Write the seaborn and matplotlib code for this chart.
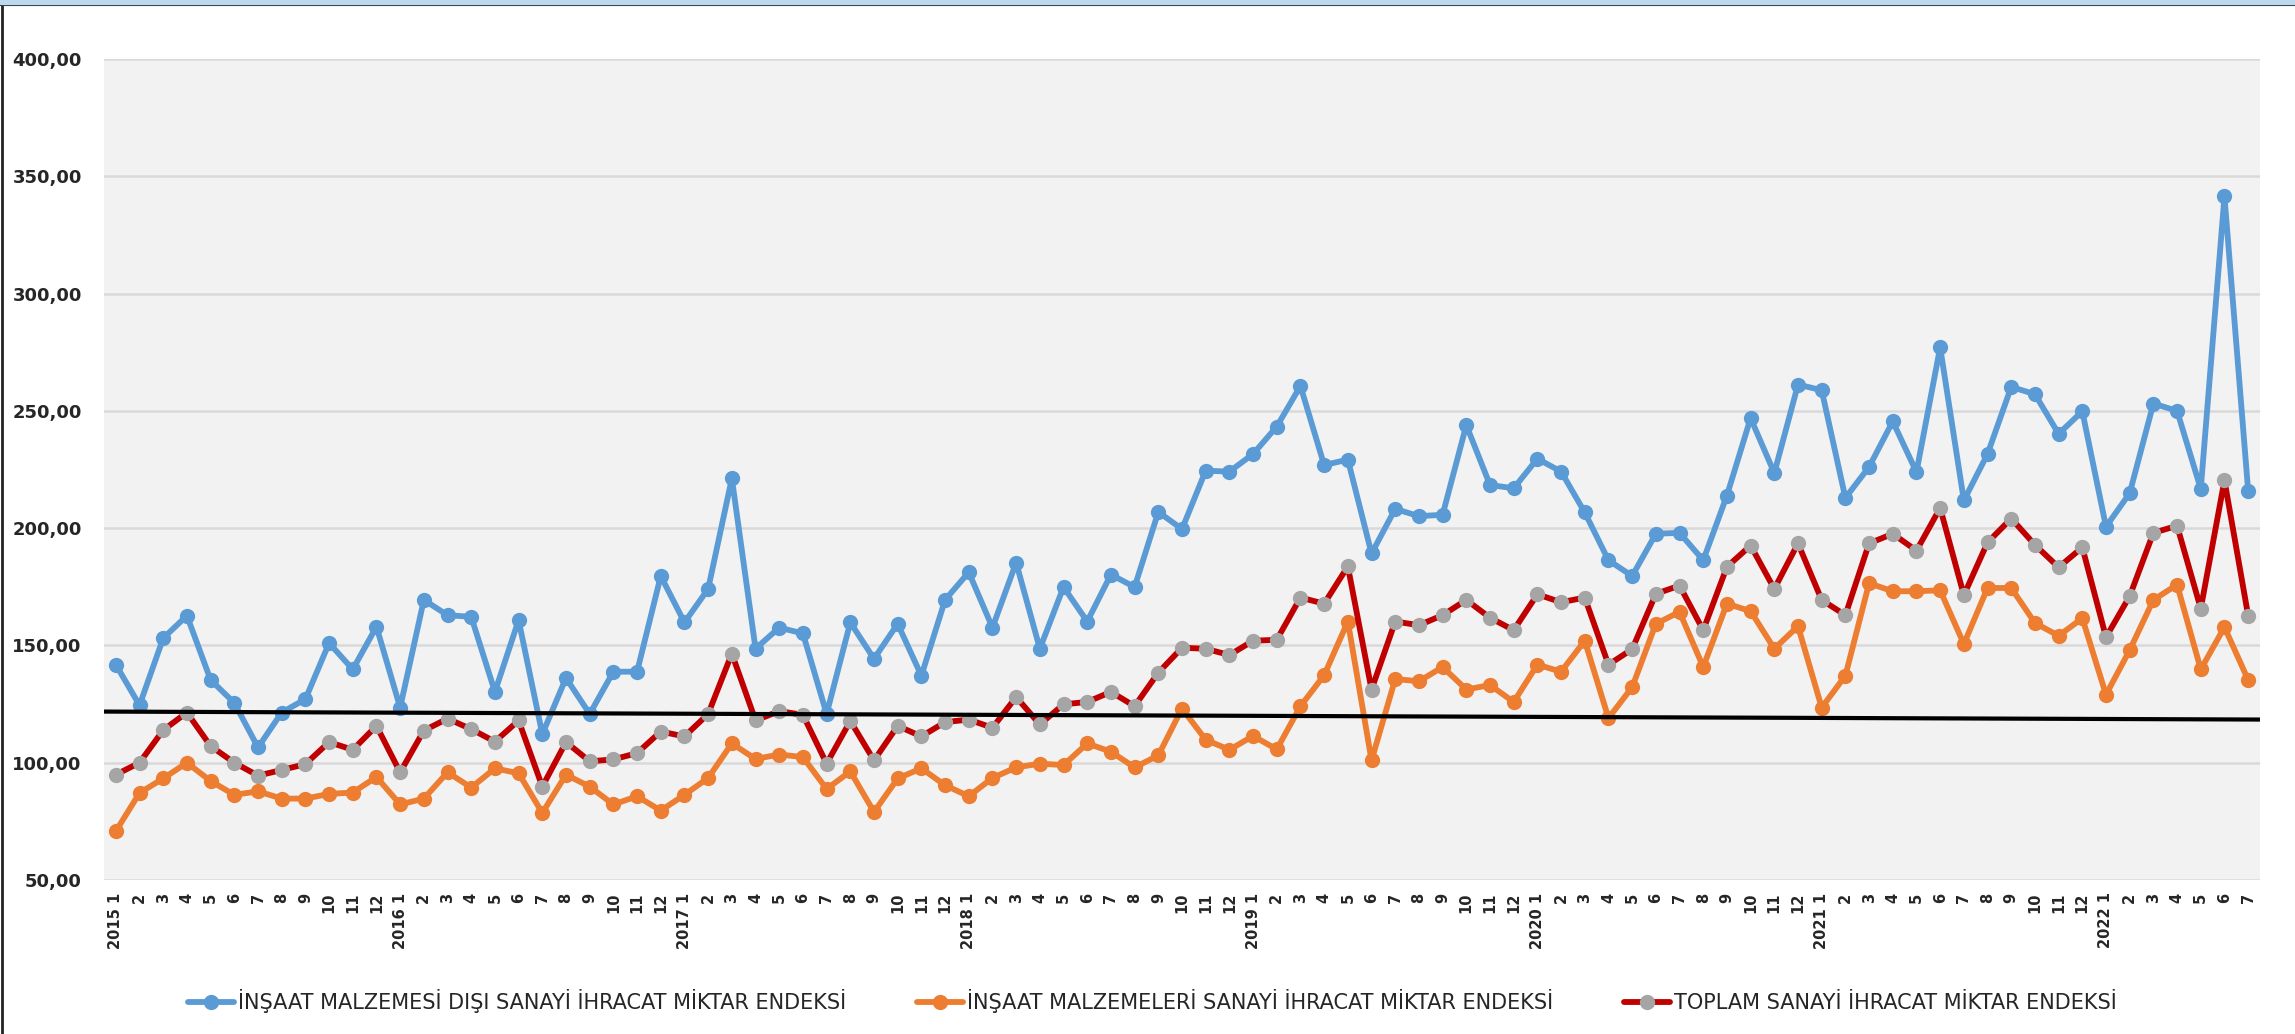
import matplotlib
matplotlib.use('Agg')
import matplotlib.pyplot as plt
from matplotlib.lines import Line2D
from matplotlib.patches import Rectangle
from matplotlib.ticker import FuncFormatter
import seaborn as sns
import pandas as pd
import numpy as np

# Data (monthly, 2015-1 .. 2022-7)
years = [2015, 2016, 2017, 2018, 2019, 2020, 2021, 2022]
last_month = 7

insaat_disi = [
    141.8, 124.5, 153.1, 162.7, 135.3, 125.5, 106.5, 121.4, 127.1, 151.0, 139.8, 158.0,
    123.5, 169.4, 162.9, 162.2, 130.2, 160.8, 112.2, 136.1, 120.8, 138.8, 138.8, 179.6,
    159.8, 174.1, 221.2, 148.6, 157.6, 155.1, 120.8, 159.8, 144.3, 159.2, 137.1, 169.4,
    181.2, 157.6, 185.3, 148.6, 174.9, 160.2, 180.2, 174.9, 206.9, 199.6, 224.5, 224.1,
    231.6, 243.3, 260.6, 226.9, 229.2, 189.2, 208.2, 205.1, 205.7, 243.9, 218.4, 217.0,
    229.6, 224.1, 206.7, 186.3, 179.6, 197.6, 198.0, 186.3, 213.9, 246.9, 223.5, 261.2,
    258.8, 212.9, 226.1, 245.5, 223.9, 277.1, 211.8, 231.6, 260.2, 257.1, 240.2, 249.8,
    200.6, 214.9, 253.1, 250.0, 216.7, 341.4, 215.9,
]
insaat_malz = [
    70.8, 87.1, 93.3, 100.0, 92.2, 86.3, 87.8, 84.7, 84.7, 86.7, 87.3, 93.9,
    82.2, 84.7, 95.9, 89.4, 97.6, 95.5, 78.6, 94.9, 89.8, 82.2, 85.7, 79.6,
    86.3, 93.5, 108.2, 101.6, 103.5, 102.4, 88.8, 96.3, 79.0, 93.3, 97.6, 90.4,
    85.7, 93.5, 98.0, 99.6, 99.0, 108.2, 104.7, 98.0, 103.1, 123.1, 109.8, 105.5,
    111.4, 105.7, 124.1, 137.3, 160.2, 101.0, 135.7, 134.7, 140.8, 131.2, 133.1, 125.9,
    141.8, 138.8, 152.0, 119.0, 132.2, 159.2, 164.3, 140.8, 167.8, 164.6, 148.6, 158.2,
    123.5, 137.1, 176.5, 173.1, 173.1, 173.5, 150.6, 174.5, 174.5, 159.6, 154.1, 161.6,
    129.0, 148.0, 169.4, 175.9, 139.8, 157.8, 135.3,
]
toplam = [
    94.9, 100.0, 113.9, 121.4, 107.1, 100.0, 94.5, 96.9, 99.4, 108.8, 105.5, 115.7,
    95.9, 113.7, 118.8, 114.3, 109.0, 118.0, 89.8, 108.8, 100.6, 101.4, 104.1, 113.3,
    111.2, 120.8, 146.5, 118.0, 122.0, 120.4, 99.6, 117.8, 101.0, 115.7, 111.2, 117.3,
    118.4, 114.9, 128.0, 116.3, 124.9, 125.9, 130.2, 124.1, 138.4, 149.0, 148.6, 145.9,
    152.0, 152.4, 170.4, 167.8, 183.7, 131.2, 160.2, 158.6, 162.9, 169.4, 161.8, 156.5,
    171.8, 168.4, 170.4, 141.8, 148.4, 172.0, 175.5, 156.5, 183.5, 192.6, 174.1, 193.5,
    169.4, 162.9, 193.5, 197.6, 190.4, 208.6, 171.4, 193.9, 204.1, 192.9, 183.3, 191.8,
    153.5, 171.0, 198.0, 201.0, 165.7, 220.4, 162.7,
]
# black trend line, value at left and right edge of the plot
trend_ends = [121.8, 118.4]

names = ['İNŞAAT MALZEMESİ DIŞI SANAYİ İHRACAT MİKTAR ENDEKSİ',
         'İNŞAAT MALZEMELERİ SANAYİ İHRACAT MİKTAR ENDEKSİ',
         'TOPLAM SANAYİ İHRACAT MİKTAR ENDEKSİ']

# tick labels: "2015 1", "2", ... "12", "2016 1", ...
labels = []
for y in years:
    n = last_month if y == years[-1] else 12
    for m in range(1, n + 1):
        labels.append(f'{y} {m}' if m == 1 else str(m))

df = pd.DataFrame({'i': np.arange(len(labels)), 'blue': insaat_disi,
                   'orange': insaat_malz, 'total': toplam})

sns.set_style('white', {'axes.facecolor': '#F2F2F2'})
plt.rcParams['font.family'] = ['DejaVu Sans']

fig = plt.figure(figsize=(22.95, 10.34), dpi=100)
ax = fig.add_axes([104 / 2295, 1 - 880 / 1034, (2260 - 104) / 2295, (880 - 59) / 1034])

# horizontal gridlines
for v in range(50, 401, 50):
    ax.axhline(v, color='#D9D9D9', lw=1.8, zorder=0)

line_kw = dict(lw=4.2, marker='o', markersize=11, markeredgewidth=0)
sns.lineplot(data=df, x='i', y='blue', ax=ax, color='#5B9BD5', label=names[0], **line_kw)
sns.lineplot(data=df, x='i', y='orange', ax=ax, color='#ED7D31', label=names[1], **line_kw)
sns.lineplot(data=df, x='i', y='total', ax=ax, color='#C00000', markerfacecolor='#A5A5A5',
             label=names[2], **line_kw)

ax.plot([-0.5, len(labels) - 0.5], trend_ends, color='black', lw=3, zorder=5)

ax.set_xlim(-0.5, len(labels) - 0.5)
ax.set_ylim(50, 400)
ax.set_yticks(range(50, 401, 50))
ax.yaxis.set_major_formatter(FuncFormatter(lambda v, p: f'{v:.2f}'.replace('.', ',')))
ax.set_xticks(range(len(labels)))
ax.set_xticklabels(labels, rotation=90, fontsize=10.5, fontweight='bold', va='top', ha='center')
for t in ax.get_yticklabels():
    t.set_fontsize(13)
    t.set_fontweight('bold')
ax.tick_params(axis='y', length=0, pad=16)
ax.tick_params(axis='x', length=0, pad=9)
ax.set_xlabel('')
ax.set_ylabel('')
sns.despine(ax=ax, left=True, bottom=True)

# legend below the plot
ax.get_legend().remove()
h, l = ax.get_legend_handles_labels()
fig.legend(h, l, loc='center', bbox_to_anchor=(0.502, 0.032), ncol=3, frameon=False,
           prop={'family': ['Liberation Sans Narrow', 'DejaVu Sans'], 'size': 15},
           handlelength=2.2, handletextpad=0.2, columnspacing=3.4)

# window frame
fig.patches.append(Rectangle((0, 1 - 4 / 1034), 1, 4 / 1034, transform=fig.transFigure,
                             color='#BDD7EE', zorder=10))
fig.add_artist(Line2D([0, 1], [1 - 5 / 1034] * 2, color='#222222', lw=1.5))
fig.add_artist(Line2D([2 / 2295] * 2, [0, 1 - 5 / 1034], color='#222222', lw=2))

fig.savefig('out.png', dpi=100)
